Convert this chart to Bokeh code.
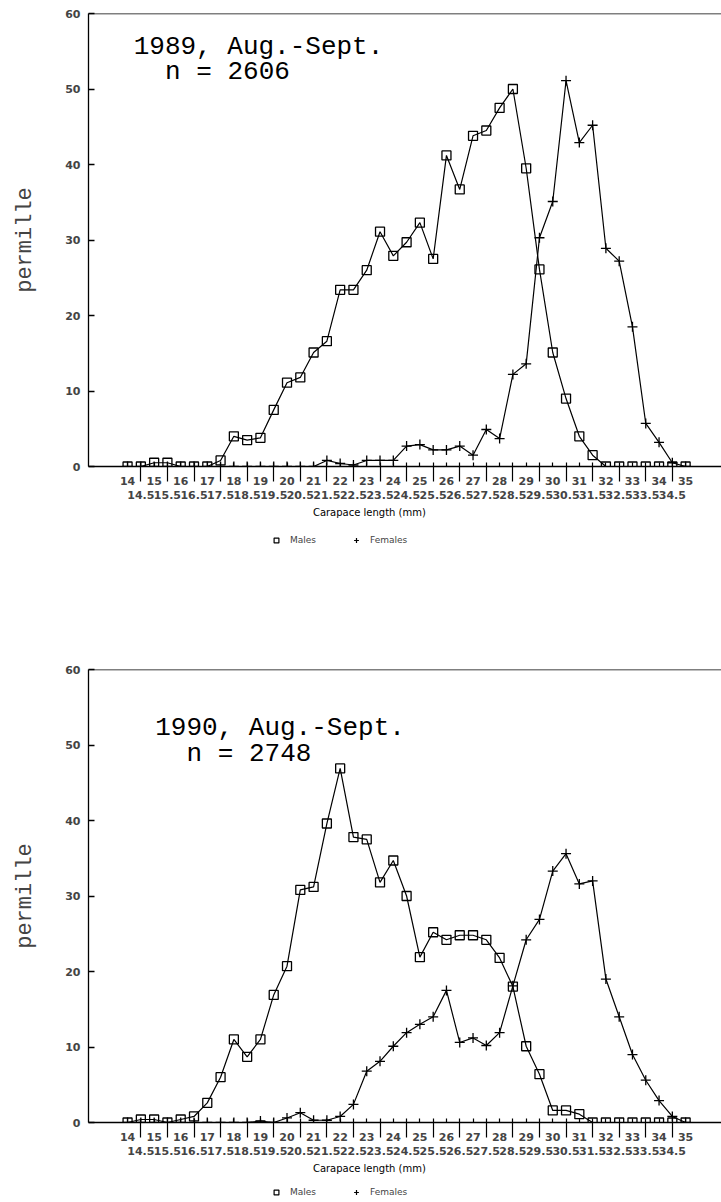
from bokeh.plotting import figure
from bokeh.models import Range1d, LinearAxis, FixedTicker, Span, Label, Legend, LegendItem, Spacer
from bokeh.layouts import column
from bokeh.embed import file_html
from bokeh.resources import INLINE

# carapace length classes (mm)
lengths = [14, 14.5, 15, 15.5, 16, 16.5, 17, 17.5, 18, 18.5, 19, 19.5, 20, 20.5,
           21, 21.5, 22, 22.5, 23, 23.5, 24, 24.5, 25, 25.5, 26, 26.5, 27, 27.5,
           28, 28.5, 29, 29.5, 30, 30.5, 31, 31.5, 32, 32.5, 33, 33.5, 34, 34.5, 35]

int_ticks = [14, 15, 16, 17, 18, 19, 20, 21, 22, 23, 24, 25, 26, 27, 28, 29, 30,
             31, 32, 33, 34, 35]
int_labels = ["14", "15", "16", "17", "18", "19", "20", "21", "22", "23", "24",
              "25", "26", "27", "28", "29", "30", "31", "32", "33", "34", "35"]
half_ticks = [14.5, 15.5, 16.5, 17.5, 18.5, 19.5, 20.5, 21.5, 22.5, 23.5, 24.5,
              25.5, 26.5, 27.5, 28.5, 29.5, 30.5, 31.5, 32.5, 33.5, 34.5]
half_labels = ["14.5", "15.5", "16.5", "17.5", "18.5", "19.5", "20.5", "21.5",
               "22.5", "23.5", "24.5", "25.5", "26.5", "27.5", "28.5", "29.5",
               "30.5", "31.5", "32.5", "33.5", "34.5"]
y_ticks = [0, 10, 20, 30, 40, 50, 60]
series_names = ["Males", "Females"]
x_title = "Carapace length (mm)"

# 1989, Aug.-Sept. (permille)
males_1989 = [0, 0, 0.5, 0.5, 0, 0, 0, 0.8, 4.0, 3.5, 3.8, 7.5, 11.1, 11.8,
              15.1, 16.6, 23.4, 23.4, 26.0, 31.1, 27.9, 29.7, 32.3, 27.5, 41.2, 36.7,
              43.8, 44.5, 47.5, 50.0, 39.5, 26.1, 15.1, 9.0, 4.0, 1.5, 0, 0, 0, 0,
              0, 0, 0]
females_1989 = [0, 0, 0, 0, 0, 0, 0, 0, 0, 0, 0, 0, 0, 0,
                0, 0.8, 0.4, 0.2, 0.8, 0.8, 0.8, 2.7, 2.9, 2.2, 2.2, 2.7,
                1.5, 4.9, 3.7, 12.2, 13.6, 30.3, 35.1, 51.1, 42.9, 45.2, 28.9, 27.2,
                18.5, 5.7, 3.2, 0.5, 0]

# 1990, Aug.-Sept. (permille)
males_1990 = [0, 0.4, 0.4, 0, 0.4, 0.8, 2.6, 6.0, 11.0, 8.7, 11.0, 16.9, 20.7,
              30.8, 31.2, 39.6, 46.9, 37.8, 37.5, 31.8, 34.7, 30.0, 21.9, 25.2,
              24.2, 24.8, 24.8, 24.2, 21.8, 18.0, 10.1, 6.4, 1.6, 1.6, 1.1, 0,
              0, 0, 0, 0, 0, 0, 0]
females_1990 = [0, 0, 0, 0, 0, 0, 0, 0, 0, 0, 0.2, 0, 0.6, 1.3, 0.3, 0.3,
                0.8, 2.4, 6.8, 8.1, 10.1, 11.9, 13.0, 14.0, 17.5, 10.6, 11.2,
                10.2, 11.9, 18.1, 24.2, 26.9, 33.3, 35.6, 31.6, 32.0, 19.0, 14.0,
                9.0, 5.6, 2.9, 0.8, 0]

panels = [
    dict(males=males_1989, females=females_1989, t1="1989, Aug.-Sept.", t2="n = 2606",
         x1=14.23, y1=55.5, x2=15.41, y2=52.2),
    dict(males=males_1990, females=females_1990, t1="1990, Aug.-Sept.", t2="n = 2748",
         x1=15.04, y1=52.3, x2=16.22, y2=48.8),
]

XR = (12.53, 36.35)
SQ = dict(marker="square", size=9, fill_color=None, line_color="black", line_width=1.3)
CR = dict(marker="cross", size=10, line_color="black", line_width=1.3)


def make_panel(cfg):
    p = figure(frame_width=633, frame_height=453, x_range=Range1d(*XR),
               y_range=Range1d(0, 60), x_axis_type=None, y_axis_type=None,
               output_backend="svg", toolbar_location=None,
               min_border_left=88, min_border_right=0, min_border_top=13,
               min_border_bottom=40)
    p.outline_line_color = None
    p.background_fill_color = "white"
    p.border_fill_color = "white"

    # y axis
    ya = LinearAxis(ticker=FixedTicker(ticks=y_ticks), axis_label="permille")
    ya.major_tick_in = 6
    ya.major_tick_out = 0
    ya.minor_tick_in = 0
    ya.minor_tick_out = 0
    ya.axis_line_width = 1.3
    ya.major_tick_line_width = 1.3
    ya.major_label_text_font = "DejaVu Sans"
    ya.major_label_text_font_size = "11px"
    ya.major_label_text_font_style = "bold"
    ya.major_label_standoff = 8
    ya.axis_label_text_font = "Liberation Mono"
    ya.axis_label_text_font_size = "22px"
    ya.axis_label_text_font_style = "normal"
    ya.axis_label_standoff = 24
    p.add_layout(ya, "left")

    # x axis: integer labels with separators at half classes
    xa = LinearAxis(ticker=FixedTicker(ticks=int_ticks, minor_ticks=half_ticks))
    xa.major_label_overrides = {t: s for t, s in zip(int_ticks, int_labels)}
    xa.major_tick_in = 4
    xa.major_tick_out = 0
    xa.minor_tick_in = 4
    xa.minor_tick_out = 15
    xa.axis_line_width = 1.6
    xa.major_tick_line_width = 1.2
    xa.minor_tick_line_width = 1.2
    xa.major_label_text_font = "DejaVu Sans"
    xa.major_label_text_font_size = "11px"
    xa.major_label_text_font_style = "bold"
    xa.major_label_standoff = -5
    p.add_layout(xa, "below")

    # x axis: half-class labels
    xb = LinearAxis(ticker=FixedTicker(ticks=half_ticks))
    xb.major_label_overrides = {t: s for t, s in zip(half_ticks, half_labels)}
    xb.axis_line_color = None
    xb.major_tick_in = 0
    xb.major_tick_out = 0
    xb.minor_tick_in = 0
    xb.minor_tick_out = 0
    xb.major_label_text_font = "DejaVu Sans"
    xb.major_label_text_font_size = "11px"
    xb.major_label_text_font_style = "bold"
    xb.major_label_standoff = 3
    p.add_layout(xb, "below")

    p.add_layout(Span(location=60, dimension="width", line_color="black", line_width=1.3))

    p.line(lengths, cfg["males"], line_color="black", line_width=1.2)
    p.line(lengths, cfg["females"], line_color="black", line_width=1.2)
    p.scatter(lengths, cfg["males"], **SQ)
    p.scatter(lengths, cfg["females"], **CR)

    for txt, x, y in ((cfg["t1"], cfg["x1"], cfg["y1"]), (cfg["t2"], cfg["x2"], cfg["y2"])):
        p.add_layout(Label(x=x, y=y, text=txt, text_font="Liberation Mono",
                           text_font_size="26px", text_color="black",
                           text_baseline="alphabetic", text_align="left"))
    return p


def make_strip(cfg, height, title_y, legend_y):
    # strip under a panel: x-axis title and legend (series sit outside its view)
    lf = figure(width=721, height=height, x_range=Range1d(*XR), y_range=Range1d(100, 101),
                x_axis_type=None, y_axis_type=None, output_backend="svg",
                toolbar_location=None, min_border=0)
    lf.outline_line_color = None
    rm = lf.scatter(lengths, cfg["males"], marker="square", size=7, fill_color=None,
                    line_color="black", line_width=1.2)
    rf = lf.scatter(lengths, cfg["females"], marker="cross", size=8,
                    line_color="black", line_width=1.2)
    lf.add_layout(Label(x=23.1, y=title_y, y_units="screen", text=x_title,
                        text_font="DejaVu Sans", text_font_size="10px",
                        text_color="black", text_align="center", text_baseline="middle"))
    leg = Legend(items=[LegendItem(label=series_names[0], renderers=[rm]),
                        LegendItem(label=series_names[1], renderers=[rf])],
                 orientation="horizontal", location=(182, legend_y))
    leg.label_text_font = "DejaVu Sans"
    leg.label_text_font_size = "9px"
    leg.glyph_width = 12
    leg.glyph_height = 12
    leg.label_height = 12
    leg.label_standoff = 8
    leg.spacing = 34
    leg.padding = 0
    leg.margin = 0
    leg.border_line_color = None
    leg.background_fill_alpha = 0
    lf.add_layout(leg)
    return lf


p1 = make_panel(panels[0])
p2 = make_panel(panels[1])
layout = column(p1, make_strip(panels[0], 48, 42, 8), Spacer(width=721, height=102), p2,
                make_strip(panels[1], 40, 34.5, 4), spacing=0)
open("out.html", "w").write(file_html(layout, INLINE))
